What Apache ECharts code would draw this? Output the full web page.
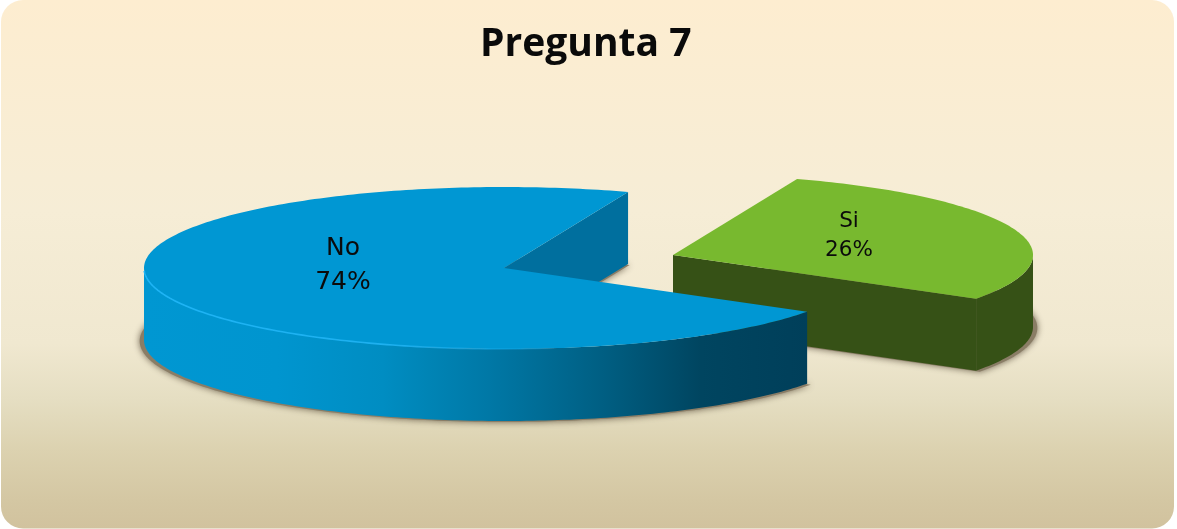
<!DOCTYPE html>
<html>
<head>
<meta charset="utf-8">
<style>
  html, body { margin: 0; padding: 0; background: #ffffff; }
  #chart { width: 1177px; height: 529px; }
</style>
<script src="https://cdn.jsdelivr.net/npm/echarts@6/dist/echarts.min.js"></script>
</head>
<body>
<div id="chart"></div>
<script>
// Survey answers, in drawing order (the far slice goes first).
const categories = ['Si', 'No'];
const values = [26, 74];
const chartTitle = 'Pregunta 7';

// Disc geometry of the tilted pie.
const RX = 360, RY = 81, DEPTH = 72;
const FIRST_ANGLE = 24.6;   // clockwise from 12 o'clock, before the view warp
const WARP = 4.45;          // view distortion of the slice angles, in degrees
const WARP_AXIS = 71.4;
const SLICE_STYLE = {
  Si: {
    apex: [673, 255], top: '#78b92f', inner: '#365116',
    rim: [[0, '#365116'], [1, '#365116']],
    label: [849, 235.5], fontSize: 21.5, lineHeight: 29
  },
  No: {
    apex: [504, 268], top: '#0097d3', inner: '#006f9e',
    rim: [[0, '#0097d2'], [0.2, '#0095cf'], [0.36, '#008dc2'], [0.43, '#0084b5'], [0.52, '#0078a6'],
          [0.69, '#005f83'], [0.84, '#004560'], [1, '#003f5a']],
    label: [343, 265.5], fontSize: 25, lineHeight: 34
  }
};

const toRad = d => d * Math.PI / 180;
const viewAngle = a => a + WARP * Math.sin(toRad(2 * (a - WARP_AXIS)));

const total = values.reduce((s, v) => s + v, 0);
const spans = [];
values.reduce((start, v) => {
  const end = start + v / total * 360;
  spans.push([viewAngle(start), viewAngle(end)]);
  return end;
}, FIRST_ANGLE);

function discPoint(apex, angle, drop) {
  return [apex[0] + RX * Math.sin(toRad(angle)), apex[1] - RY * Math.cos(toRad(angle)) + (drop || 0)];
}
function arc(apex, from, to, drop) {
  const n = Math.max(2, Math.ceil(Math.abs(to - from)));
  const pts = [];
  for (let i = 0; i <= n; i++) pts.push(discPoint(apex, from + (to - from) * i / n, drop));
  return pts;
}
function polygon(points, style, z2) {
  return { type: 'polygon', shape: { points }, style, z2 };
}

function renderSlice(params) {
  const name = categories[params.dataIndex];
  const value = values[params.dataIndex];
  const cfg = SLICE_STYLE[name];
  const [from, to] = spans[params.dataIndex];
  const a = cfg.apex;
  const kids = [];

  // Soft ground shadow under the slice outline.
  const ground = [[a[0], a[1] + DEPTH]].concat(arc(a, from, to, DEPTH));
  kids.push(polygon(ground.map(p => [p[0] + (p[0] - a[0]) * 0.012, p[1] + 1]), {
    fill: '#8a7d66', shadowBlur: 7, shadowColor: 'rgba(70,58,40,0.75)'
  }, -10));

  // Flat cut wall: only the side facing the viewer is drawn.
  const wp = discPoint(a, to);
  kids.push(polygon([a, wp, [wp[0], wp[1] + DEPTH], [a[0], a[1] + DEPTH]], { fill: cfg.inner }, 1));

  // Curved outer wall, front half only.
  const rimFrom = Math.max(from, 90), rimTo = Math.min(to, 270);
  const upper = arc(a, rimFrom, rimTo, 0);
  const lower = arc(a, rimTo, rimFrom, DEPTH);
  kids.push(polygon(upper.concat(lower), {
    fill: new echarts.graphic.LinearGradient(0, 0, 1, 0,
      cfg.rim.map(s => ({ offset: s[0], color: s[1] })))
  }, 2));

  // Top face.
  kids.push(polygon([a].concat(arc(a, from, to, 0)), { fill: cfg.top }, 3));

  // Bright edge along the front-left of the blue disc.
  if (name === 'No') {
    kids.push({
      type: 'polyline', shape: { points: arc(a, 268, 172, 0) }, z2: 4,
      style: {
        fill: 'none', lineWidth: 1.6,
        stroke: new echarts.graphic.LinearGradient(0, 0, 1, 0, [
          { offset: 0, color: 'rgba(30,180,245,1)' },
          { offset: 0.6, color: 'rgba(30,180,245,0.9)' },
          { offset: 1, color: 'rgba(30,180,245,0.1)' }
        ])
      }
    });
  }

  // Category name and share.
  kids.push({
    type: 'text', z2: 5, x: cfg.label[0], y: cfg.label[1],
    style: {
      text: name + '\n' + Math.round(value / total * 100) + '%',
      fontFamily: 'DejaVu Sans', fontSize: cfg.fontSize, lineHeight: cfg.lineHeight,
      fill: '#0b0b0b', align: 'center', verticalAlign: 'middle'
    }
  });
  return { type: 'group', children: kids };
}

const chart = echarts.init(document.getElementById('chart'), null, { renderer: 'canvas' });
chart.setOption({
  animation: false,
  backgroundColor: 'transparent',
  title: {
    text: chartTitle, left: 480, top: 20, padding: 0,
    textStyle: { fontFamily: 'Open Sans', fontWeight: 'bold', fontSize: 39, color: '#0a0a0a', lineHeight: 50 }
  },
  graphic: [{
    type: 'rect', z: -1, silent: true,
    shape: { x: 1, y: 0, width: 1173, height: 528.5, r: 22 },
    style: {
      fill: new echarts.graphic.LinearGradient(0, 0, 0, 1, [
        { offset: 0, color: '#fdedd0' },
        { offset: 0.4, color: '#f6edd6' },
        { offset: 0.65, color: '#f0e8d0' },
        { offset: 0.756, color: '#e5dec2' },
        { offset: 0.85, color: '#dcd2b0' },
        { offset: 0.945, color: '#d4c7a3' },
        { offset: 1, color: '#d1c29e' }
      ])
    }
  }],
  series: [{
    type: 'custom',
    coordinateSystem: 'none',
    renderItem: renderSlice,
    data: categories.map((c, i) => ({ name: c, value: values[i] }))
  }]
});
</script>
</body>
</html>
